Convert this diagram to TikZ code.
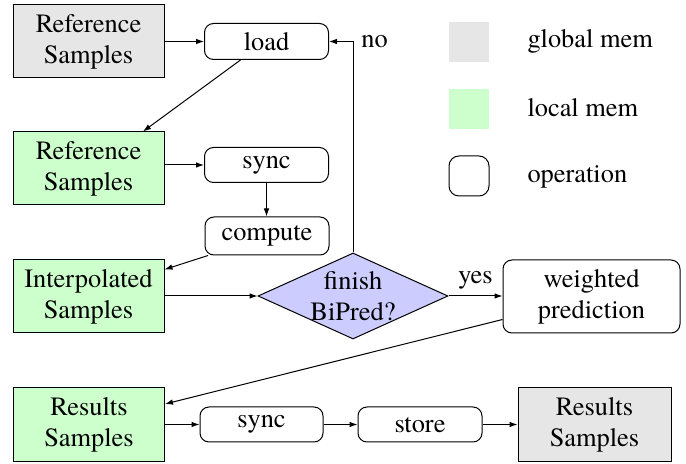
\documentclass[tikz,border=0pt]{standalone}
\usepackage{fontspec}
\IfFontExistsTF{texgyretermes-regular.otf}
  {\newfontfamily\timesfont{texgyretermes-regular.otf}}
  {\IfFontExistsTF{LiberationSerif-Regular.ttf}
     {\newfontfamily\timesfont{LiberationSerif-Regular.ttf}}
     {\newfontfamily\timesfont{Liberation Serif}}}
\usetikzlibrary{shapes.geometric,arrows.meta,calc}
\definecolor{gmemc}{HTML}{E6E6E6}
\definecolor{lmemc}{HTML}{CCFFCC}
\definecolor{decc}{HTML}{CCCCFF}
\begin{document}
\begin{tikzpicture}[x=0.5pt,y=-0.5pt,
  font=\timesfont\fontsize{13.2pt}{15.5pt}\selectfont,
  every path/.style={line width=0.5pt},
  arr/.style={-{Latex[length=4pt,width=2.8pt]}},
  membox/.style={draw, align=center, inner sep=0pt, minimum width=75.5pt, minimum height=36.5pt},
  gmem/.style={membox, fill=gmemc},
  lmem/.style={membox, fill=lmemc},
  opbox/.style={draw, rounded corners=4.5pt, align=center, inner sep=0pt, minimum width=62pt, minimum height=18pt},
  decision/.style={draw, fill=decc, diamond, inner sep=0pt, minimum width=95pt, minimum height=43pt}]
\useasboundingbox (0,0) rectangle (686,464);

% nodes
\node[gmem] (refG) at (88.5,41.5) {Reference\\Samples};
\node[opbox] (load) at (266.5,41.5) {load};
\node[lmem] (refL) at (88.5,168.5) {Reference\\Samples};
\node[opbox, minimum height=17.5pt] (sync) at (266.5,165) {sync};
\node[opbox, minimum height=19pt] (compute) at (267,236) {compute};
\node[lmem] (interp) at (88.5,296.5) {Interpolated\\Samples};
\node[decision] (d) at (353,296) {};
\node[align=center, inner sep=0pt] (dtext) at (353,296) {finish\\BiPred?};
\node[opbox, minimum width=88.5pt, minimum height=36.5pt] (w) at (591.5,296.5) {weighted\\prediction};
\node[lmem, minimum height=37pt] (resL) at (89,424.5) {Results\\Samples};
\node[opbox, minimum height=17.5pt, minimum width=61.5pt] (sync2) at (261.5,424.5) {sync};
\node[opbox, minimum height=17.5pt] (store) at (420,424.5) {store};
\node[gmem, minimum width=76.5pt, minimum height=37pt] (resG) at (594.5,424.5) {Results\\Samples};

% legend
\node[fill=gmemc, minimum size=20pt, inner sep=0pt] (lg) at (469,42) {};
\node[fill=lmemc, minimum size=20pt, inner sep=0pt] (ll) at (469,109) {};
\node[draw, rounded corners=5pt, minimum size=20pt, inner sep=0pt] (lo) at (469,176) {};
\node[anchor=base west, inner sep=0pt] (tg) at (527,48) {global mem};
\node[anchor=base west, inner sep=0pt] (tl) at (527,117) {local mem};
\node[anchor=base west, inner sep=0pt] (to) at (527,183) {operation};

% connectors
\draw[arr] (refG.east) -- (load.west);
\draw[arr] ($(load.south)+(-26,0)$) -- ($(refL.north)+(54.5,0)$);
\draw[arr] (refL.east |- sync.west) -- (sync.west);
\draw[arr] (sync.south) -- (sync.south |- compute.north);
\draw[arr] ($(compute.south)+(-59,0)$) -- ($(interp.north east)+(0,10)$);
\draw[arr] (interp.east |- d.west) -- (d.west);
\draw[arr] (d.east) -- node[above=3pt, inner sep=0pt] (yes) {yes} (d.east -| w.west);
\coordinate (corner) at (d.north |- load.east);
\draw[arr] (d.north) -- (corner) -- (load.east);
\node[anchor=base, inner sep=0pt] (no) at (374.5,48) {no};
\draw[arr] ($(w.west)+(0,23)$) -- ($(resL.north east)+(0,17)$);
\draw[arr] (resL.east |- sync2.west) -- (sync2.west);
\draw[arr] (sync2.east) -- (store.west);
\draw[arr] (store.east) -- (store.east -| resG.west);
\end{tikzpicture}
\end{document}
